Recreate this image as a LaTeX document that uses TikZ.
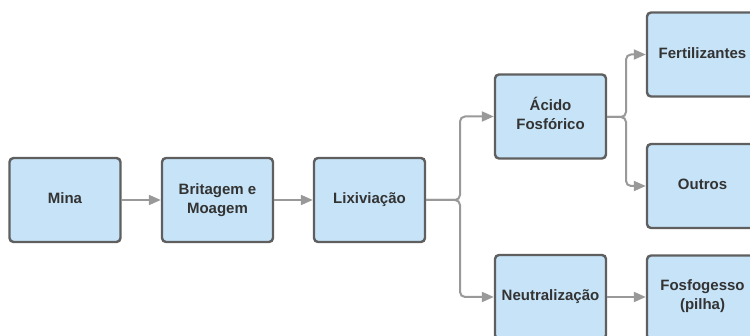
\documentclass[tikz,border=0pt]{standalone}
\usepackage{fontspec}
\setmainfont{Liberation Sans}
\usetikzlibrary{arrows.meta}
\definecolor{boxfill}{HTML}{C6E3F7}
\definecolor{boxline}{HTML}{5F5F5F}
\definecolor{linkcol}{HTML}{999999}
\definecolor{txt}{HTML}{333333}
\begin{document}
\begin{tikzpicture}[x=1pt,y=-1pt,
  stage/.style={draw=boxline, line width=2.4pt, fill=boxfill, rounded corners=4pt,
    minimum width=111pt, minimum height=84pt, inner sep=0pt, align=center,
    text=txt, font=\fontsize{15}{19}\selectfont\bfseries},
  link/.style={draw=linkcol, line width=2pt, rounded corners=5pt,
    -{Triangle[length=12pt,width=10pt]}}]
\useasboundingbox (0,0) rectangle (750,336);
\begin{scope}
\clip (0,0) rectangle (750,336);
\node[stage, text depth=3pt] (mina) at (65,200) {Mina};
\node[stage] (brit) at (217.5,200) {Britagem e\\Moagem};
\node[stage, text depth=3pt] (lix) at (369.5,200) {Lixiviação};
\node[stage, text depth=5.5pt] (acido) at (550.5,116.5) {Ácido\\Fosfórico};
\node[stage] (neut) at (550.5,297) {Neutralização};
\node[stage, text depth=2.5pt] (fert) at (702.5,54.5) {Fertilizantes};
\node[stage, text depth=2.5pt] (outros) at (702.5,186) {Outros};
\node[stage, text depth=5.5pt] (fosf) at (702.5,297.5) {Fosfogesso\\(pilha)};

\coordinate (split) at (460,200);
\coordinate (fork) at (626,117);

\draw[link] (mina.east) -- (brit.west);
\draw[link] (brit.east) -- (lix.west);
\draw[link] (lix.east) -- (split) |- (acido.west);
\draw[link] (lix.east) -- (split) |- (neut.west);
\draw[link] (acido.east |- fork) -- (fork) |- (fert.west);
\draw[link] (acido.east |- fork) -- (fork) |- (outros.west);
\draw[link] (neut.east) -- (fosf.west |- neut.east);
\end{scope}
\end{tikzpicture}
\end{document}
